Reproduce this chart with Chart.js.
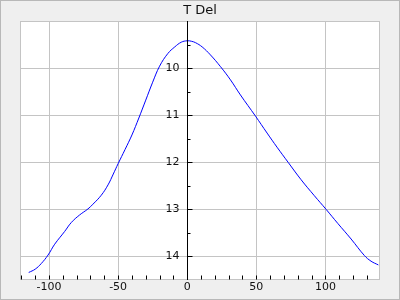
<!DOCTYPE html>
<html>
<head>
<meta charset="utf-8">
<script src="https://cdn.jsdelivr.net/npm/chart.js@4.4.1/dist/chart.umd.min.js"></script>
<style>
  html, body { margin: 0; padding: 0; background: #efefef; }
  #wrap { width: 400px; height: 300px; box-sizing: border-box; border: 1px solid #b8b8b8; }
  canvas { display: block; }
</style>
</head>
<body>
<div id="wrap"><canvas id="c" width="398" height="298"></canvas></div>
<script>
// curve
const xs = [-114.7, -110, -105.6, -100.7, -95.9, -88.7, -83.9, -77.9, -71.8, -68.2, -62.2, -57.3, -53.5,
  -50, -45, -40, -35, -30, -25, -20, -14, -9, -4.3, 0, 3, 6, 10.8, 16.8, 24.1, 31.3, 38.5,
  49.4, 57.8, 65, 73, 82.4, 92, 100.5, 109, 118.6, 128.2, 133, 138.3]
const ys = [14.34, 14.27, 14.15, 13.97, 13.74, 13.47, 13.28, 13.12, 12.99, 12.89, 12.70, 12.48, 12.25,
  12.03, 11.73, 11.42, 11.06, 10.68, 10.30, 9.96, 9.69, 9.55, 9.45, 9.42, 9.43, 9.46, 9.55, 9.72, 9.97, 10.25, 10.57,
  11.02, 11.38, 11.68, 12.0, 12.37, 12.71, 13.0, 13.30, 13.63, 13.98, 14.10, 14.18]

const xTicks = [-100, -50, 0, 50, 100]
const xMinorTicks = [-120, -110, -90, -80, -70, -60, -40, -30, -20, -10, 10, 20, 30, 40, 60, 70, 80, 90, 110, 120, 130]
const yTicks = [10, 11, 12, 13, 14]
const yMinorTicks = [9.5, 10.5, 11.5, 12.5, 13.5]

const gridColor = '#c4c4c4'
const font = 'DejaVu Sans'

// white plot background, frame, centre axis and small tick marks
const axisPlugin = {
  id: 'centerAxis',
  beforeDraw(chart) {
    const { ctx, chartArea: a } = chart
    ctx.save()
    ctx.fillStyle = '#fff'
    ctx.fillRect(a.left, a.top, a.right - a.left, a.bottom - a.top)
    ctx.restore()
  },
  afterDatasetsDraw(chart) {
    const { ctx, chartArea: a, scales: { x, y } } = chart
    ctx.save()
    ctx.strokeStyle = gridColor
    ctx.lineWidth = 1
    ctx.strokeRect(Math.round(a.left) + 0.5, Math.round(a.top) + 0.5,
      Math.round(a.right - a.left) - 1, Math.round(a.bottom - a.top) - 1)

    ctx.strokeStyle = '#000'
    const ax = Math.round(x.getPixelForValue(0)) + 0.5
    ctx.beginPath()
    ctx.moveTo(ax, a.top)
    ctx.lineTo(ax, a.bottom)
    yTicks.forEach(v => {
      const py = Math.round(y.getPixelForValue(v)) + 0.5
      ctx.moveTo(ax, py); ctx.lineTo(ax + 5, py)
    })
    yMinorTicks.forEach(v => {
      const py = Math.round(y.getPixelForValue(v)) + 0.5
      ctx.moveTo(ax, py); ctx.lineTo(ax + 3, py)
    })
    const by = Math.round(a.bottom) - 0.5
    xTicks.concat(xMinorTicks).forEach(v => {
      const px = Math.round(x.getPixelForValue(v)) + 0.5
      ctx.moveTo(px, by); ctx.lineTo(px, by - 4)
    })
    ctx.stroke()

    ctx.fillStyle = '#111'
    ctx.font = '11px "' + font + '"'
    ctx.textAlign = 'right'
    ctx.textBaseline = 'middle'
    yTicks.forEach(v => {
      ctx.fillText(String(v), ax - 8, y.getPixelForValue(v))
    })
    ctx.restore()
  }
}

new Chart(document.getElementById('c'), {
  type: 'line',
  data: {
    datasets: [{
      data: xs.map((v, i) => ({ x: v, y: ys[i] })),
      borderColor: '#0000ff',
      borderWidth: 1,
      pointRadius: 0,
      tension: 0.4,
      fill: false
    }]
  },
  options: {
    responsive: false,
    animation: false,
    events: [],
    layout: { padding: { left: 19, right: 19, top: 0, bottom: 0 } },
    plugins: {
      legend: { display: false },
      tooltip: { enabled: false },
      title: {
        display: true,
        text: 'T Del',
        color: '#111',
        font: { family: font, size: 13, weight: 'normal' },
        padding: { top: 2, bottom: 2.4 }
      }
    },
    scales: {
      x: {
        type: 'linear',
        min: -121,
        max: 139.5,
        afterBuildTicks: s => { s.ticks = xTicks.map(v => ({ value: v })) },
        afterFit: s => { s.height = 19 },
        grid: { color: gridColor, drawTicks: false },
        border: { display: false },
        ticks: { color: '#111', padding: 1, font: { family: font, size: 11 } }
      },
      y: {
        type: 'linear',
        reverse: true,
        min: 9,
        max: 14.5,
        afterBuildTicks: s => { s.ticks = yTicks.map(v => ({ value: v })) },
        afterFit: s => { s.width = 0 },
        grid: { color: gridColor, drawTicks: false },
        border: { display: false },
        ticks: { display: false }
      }
    }
  },
  plugins: [axisPlugin]
})
</script>
</body>
</html>
